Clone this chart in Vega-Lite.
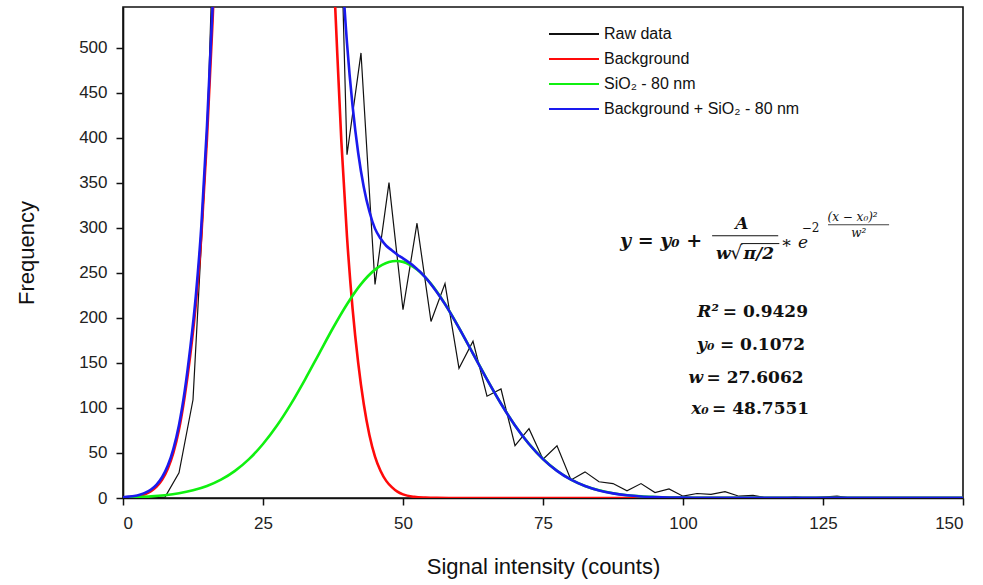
{
  "$schema": "https://vega.github.io/schema/vega-lite/v6.json",
  "width": 840,
  "height": 491,
  "autosize": "none",
  "padding": {"left": 123, "top": 7, "right": 20, "bottom": 87},
  "background": "white",
  "config": {
    "view": {"stroke": "#111", "strokeWidth": 1.6},
    "axis": {
      "grid": false,
      "domainColor": "#111",
      "domainWidth": 1.6,
      "tickColor": "#111",
      "tickWidth": 1.5,
      "tickSize": 7,
      "labelFont": "Liberation Sans",
      "labelFontSize": 17,
      "labelColor": "#222",
      "titleFont": "Liberation Sans",
      "titleFontSize": 22,
      "titleFontWeight": "normal",
      "titleColor": "#111"
    },
    "legend": {
      "labelFont": "Liberation Sans",
      "labelFontSize": 16,
      "labelColor": "#111",
      "labelLimit": 400
    },
    "text": {"font": "DejaVu Serif", "color": "#111", "baseline": "middle"}
  },
  "datasets": {
    "raw": [
      {"x": 0, "y": 0}, {"x": 2.5, "y": 0}, {"x": 5, "y": 0}, {"x": 7.5, "y": 1},
      {"x": 10, "y": 28}, {"x": 12.5, "y": 109}, {"x": 15, "y": 400}, {"x": 17.5, "y": 900},
      {"x": 20, "y": 1400}, {"x": 22.5, "y": 1900}, {"x": 25, "y": 2150}, {"x": 27.5, "y": 2200},
      {"x": 30, "y": 2000}, {"x": 32.5, "y": 1600}, {"x": 35, "y": 1250}, {"x": 37.5, "y": 960},
      {"x": 40, "y": 381}, {"x": 42.5, "y": 494}, {"x": 45, "y": 237}, {"x": 47.5, "y": 350},
      {"x": 50, "y": 209}, {"x": 52.5, "y": 305}, {"x": 55, "y": 196}, {"x": 57.5, "y": 238},
      {"x": 60, "y": 144}, {"x": 62.5, "y": 174}, {"x": 65, "y": 113}, {"x": 67.5, "y": 121},
      {"x": 70, "y": 58}, {"x": 72.5, "y": 77}, {"x": 75, "y": 43}, {"x": 77.5, "y": 58},
      {"x": 80, "y": 20}, {"x": 82.5, "y": 29}, {"x": 85, "y": 18}, {"x": 87.5, "y": 16},
      {"x": 90, "y": 8}, {"x": 92.5, "y": 16}, {"x": 95, "y": 6}, {"x": 97.5, "y": 10},
      {"x": 100, "y": 2}, {"x": 102.5, "y": 5}, {"x": 105, "y": 4}, {"x": 107.5, "y": 7},
      {"x": 110, "y": 2}, {"x": 112.5, "y": 3}, {"x": 115, "y": 0}, {"x": 117.5, "y": 0},
      {"x": 120, "y": 1}, {"x": 122.5, "y": 0}, {"x": 125, "y": 1}, {"x": 127.5, "y": 2},
      {"x": 130, "y": 0}
    ],
    "background": [
      {"x": 0, "y": 0.4}, {"x": 1, "y": 0.8}, {"x": 2, "y": 1.5}, {"x": 3, "y": 2.6},
      {"x": 4, "y": 4.5}, {"x": 5, "y": 7.7}, {"x": 6, "y": 12.7}, {"x": 7, "y": 20.6},
      {"x": 8, "y": 32.6}, {"x": 9, "y": 50.4}, {"x": 10, "y": 76}, {"x": 11, "y": 112},
      {"x": 12, "y": 158}, {"x": 13, "y": 215}, {"x": 14, "y": 292}, {"x": 15, "y": 400},
      {"x": 16, "y": 530}, {"x": 17, "y": 690}, {"x": 18, "y": 860}, {"x": 20, "y": 1250},
      {"x": 22.5, "y": 1750}, {"x": 25, "y": 2090}, {"x": 27.5, "y": 2175}, {"x": 30, "y": 1930},
      {"x": 32.5, "y": 1480}, {"x": 35, "y": 990}, {"x": 36, "y": 820}, {"x": 37, "y": 670},
      {"x": 38, "y": 530}, {"x": 39, "y": 395}, {"x": 40, "y": 290}, {"x": 41, "y": 210},
      {"x": 42, "y": 150}, {"x": 43, "y": 104}, {"x": 44, "y": 70}, {"x": 45, "y": 46},
      {"x": 46, "y": 30}, {"x": 47, "y": 19}, {"x": 48, "y": 12}, {"x": 49, "y": 7},
      {"x": 50, "y": 4}, {"x": 52, "y": 1.3}, {"x": 54, "y": 0.4}, {"x": 56, "y": 0.1},
      {"x": 60, "y": 0}, {"x": 70, "y": 0}, {"x": 80, "y": 0}, {"x": 90, "y": 0},
      {"x": 100, "y": 0}, {"x": 110, "y": 0}, {"x": 120, "y": 0}, {"x": 130, "y": 0},
      {"x": 140, "y": 0}, {"x": 150, "y": 0}
    ],
    "sio2": [
      {"x": 0, "y": 0.6}, {"x": 2.5, "y": 1.1}, {"x": 5, "y": 1.8}, {"x": 7.5, "y": 3.1},
      {"x": 10, "y": 5.2}, {"x": 12.5, "y": 8.5}, {"x": 15, "y": 13.3}, {"x": 17.5, "y": 20.3},
      {"x": 20, "y": 30.1}, {"x": 22.5, "y": 43.1}, {"x": 25, "y": 59.9}, {"x": 27.5, "y": 80.4},
      {"x": 30, "y": 104.5}, {"x": 32.5, "y": 131.5}, {"x": 35, "y": 160.1}, {"x": 37.5, "y": 188.7},
      {"x": 40, "y": 215.1}, {"x": 42.5, "y": 237.4}, {"x": 45, "y": 253.5}, {"x": 47.5, "y": 262},
      {"x": 48.75, "y": 263.1}, {"x": 50, "y": 262.1}, {"x": 52.5, "y": 253.6}, {"x": 55, "y": 237.6},
      {"x": 57.5, "y": 215.3}, {"x": 60, "y": 188.9}, {"x": 62.5, "y": 160.3}, {"x": 65, "y": 131.7},
      {"x": 67.5, "y": 104.7}, {"x": 70, "y": 80.6}, {"x": 72.5, "y": 60}, {"x": 75, "y": 43.3},
      {"x": 77.5, "y": 30.2}, {"x": 80, "y": 20.4}, {"x": 82.5, "y": 13.4}, {"x": 85, "y": 8.5},
      {"x": 87.5, "y": 5.2}, {"x": 90, "y": 3.1}, {"x": 92.5, "y": 1.8}, {"x": 95, "y": 1.1},
      {"x": 97.5, "y": 0.6}, {"x": 100, "y": 0.4}, {"x": 105, "y": 0.2}, {"x": 110, "y": 0.1},
      {"x": 120, "y": 0.1}, {"x": 130, "y": 0.1}, {"x": 140, "y": 0.1}, {"x": 150, "y": 0.1}
    ],
    "total": [
      {"x": 0, "y": 0.9}, {"x": 1, "y": 1.5}, {"x": 2, "y": 2.3}, {"x": 3, "y": 3.7},
      {"x": 4, "y": 5.9}, {"x": 5, "y": 9.4}, {"x": 6, "y": 14.9}, {"x": 7, "y": 23.3},
      {"x": 8, "y": 36}, {"x": 9, "y": 54.6}, {"x": 10, "y": 81.1}, {"x": 11, "y": 118},
      {"x": 12, "y": 166}, {"x": 13, "y": 224}, {"x": 14, "y": 303}, {"x": 15, "y": 413},
      {"x": 16, "y": 546}, {"x": 17, "y": 709}, {"x": 18, "y": 882}, {"x": 20, "y": 1280},
      {"x": 22.5, "y": 1793}, {"x": 25, "y": 2150}, {"x": 27.5, "y": 2255}, {"x": 30, "y": 2034},
      {"x": 32.5, "y": 1611}, {"x": 35, "y": 1150}, {"x": 36, "y": 992}, {"x": 37, "y": 853},
      {"x": 38, "y": 724}, {"x": 39, "y": 600}, {"x": 40, "y": 505}, {"x": 41, "y": 435},
      {"x": 42, "y": 383}, {"x": 43, "y": 345}, {"x": 44, "y": 318}, {"x": 45, "y": 299},
      {"x": 46, "y": 288}, {"x": 47, "y": 280}, {"x": 48, "y": 275}, {"x": 49, "y": 270},
      {"x": 50, "y": 266}, {"x": 52, "y": 257}, {"x": 54, "y": 245}, {"x": 56, "y": 229},
      {"x": 57.5, "y": 215.2}, {"x": 60, "y": 188.8}, {"x": 62.5, "y": 160.2}, {"x": 65, "y": 131.6},
      {"x": 67.5, "y": 104.6}, {"x": 70, "y": 80.5}, {"x": 72.5, "y": 59.9}, {"x": 75, "y": 43.2},
      {"x": 77.5, "y": 30.1}, {"x": 80, "y": 20.3}, {"x": 82.5, "y": 13.3}, {"x": 85, "y": 8.4},
      {"x": 87.5, "y": 5.1}, {"x": 90, "y": 3}, {"x": 92.5, "y": 1.7}, {"x": 95, "y": 1},
      {"x": 97.5, "y": 0.6}, {"x": 100, "y": 0.4}, {"x": 105, "y": 0.2}, {"x": 110, "y": 0.1},
      {"x": 120, "y": 0.1}, {"x": 130, "y": 0.1}, {"x": 140, "y": 0.1}, {"x": 150, "y": 0.1}
    ]
  },
  "layer": [
    {
      "data": {"name": "raw"},
      "mark": {"type": "line", "clip": true, "strokeWidth": 1.2},
      "encoding": {
        "x": {
          "field": "x", "type": "quantitative",
          "scale": {"domain": [0, 150], "nice": false, "zero": false},
          "axis": {"values": [0, 25, 50, 75, 100, 125, 150], "title": "Signal intensity (counts)", "labelPadding": 10, "titlePadding": 25}
        },
        "y": {
          "field": "y", "type": "quantitative",
          "scale": {"domain": [0, 545], "nice": false, "zero": false},
          "axis": {"values": [0, 50, 100, 150, 200, 250, 300, 350, 400, 450, 500], "title": "Frequency", "labelPadding": 9, "titlePadding": 40}
        },
        "color": {
          "datum": "Raw data",
          "scale": {
            "domain": ["Raw data", "Background", "SiO₂ - 80 nm", "Background + SiO₂ - 80 nm"],
            "range": ["#111111", "#ff0a0a", "#10f010", "#1a1aee"]
          },
          "legend": {
            "title": null,
            "orient": "none",
            "legendX": 440,
            "legendY": 16,
            "symbolType": "M-2.5,0H2.5",
            "symbolSize": 400,
            "symbolStrokeWidth": 2,
            "labelOffset": 19,
            "rowPadding": 6,
            "padding": 0
          }
        }
      }
    },
    {"data": {"name": "background"}, "mark": {"type": "line", "clip": true, "strokeWidth": 2.6, "interpolate": "monotone"},
     "encoding": {"x": {"field": "x", "type": "quantitative"}, "y": {"field": "y", "type": "quantitative"}, "color": {"datum": "Background"}}},
    {"data": {"name": "sio2"}, "mark": {"type": "line", "clip": true, "strokeWidth": 2.6, "interpolate": "monotone"},
     "encoding": {"x": {"field": "x", "type": "quantitative"}, "y": {"field": "y", "type": "quantitative"}, "color": {"datum": "SiO₂ - 80 nm"}}},
    {"data": {"name": "total"}, "mark": {"type": "line", "clip": true, "strokeWidth": 2.6, "interpolate": "monotone"},
     "encoding": {"x": {"field": "x", "type": "quantitative"}, "y": {"field": "y", "type": "quantitative"}, "color": {"datum": "Background + SiO₂ - 80 nm"}}},

    {"data": {"values": [{}]}, "mark": {"type": "text", "text": "y = y₀ +", "align": "left", "fontStyle": "italic", "fontWeight": "bold", "fontSize": 19}, "encoding": {"x": {"datum": 88.75, "type": "quantitative"}, "y": {"datum": 285.6, "type": "quantitative"}}},
    {"data": {"values": [{}]}, "mark": {"type": "text", "text": "A", "align": "center", "fontStyle": "italic", "fontWeight": "bold", "fontSize": 17}, "encoding": {"x": {"datum": 110.5, "type": "quantitative"}, "y": {"datum": 304.4, "type": "quantitative"}}},
    {"data": {"values": [{}]}, "mark": {"type": "rule", "strokeWidth": 1.2, "color": "#111"}, "encoding": {"x": {"datum": 105.2, "type": "quantitative"}, "x2": {"datum": 117.0}, "y": {"datum": 291.1, "type": "quantitative"}}},
    {"data": {"values": [{}]}, "mark": {"type": "text", "text": "w", "align": "center", "fontStyle": "italic", "fontWeight": "bold", "fontSize": 17}, "encoding": {"x": {"datum": 107.2, "type": "quantitative"}, "y": {"datum": 271.1, "type": "quantitative"}}},
    {"data": {"values": [{}]}, "mark": {"type": "text", "text": "√", "align": "center", "fontSize": 19}, "encoding": {"x": {"datum": 109.5, "type": "quantitative"}, "y": {"datum": 272, "type": "quantitative"}}},
    {"data": {"values": [{}]}, "mark": {"type": "text", "text": "π/2", "align": "left", "fontStyle": "italic", "fontWeight": "bold", "fontSize": 17}, "encoding": {"x": {"datum": 110.8, "type": "quantitative"}, "y": {"datum": 270.5, "type": "quantitative"}}},
    {"data": {"values": [{}]}, "mark": {"type": "rule", "strokeWidth": 1, "color": "#111"}, "encoding": {"x": {"datum": 110.4, "type": "quantitative"}, "x2": {"datum": 117.2}, "y": {"datum": 282.4, "type": "quantitative"}}},
    {"data": {"values": [{}]}, "mark": {"type": "text", "text": "∗ e", "align": "left", "fontStyle": "italic", "fontSize": 17}, "encoding": {"x": {"datum": 117.5, "type": "quantitative"}, "y": {"datum": 283.3, "type": "quantitative"}}},
    {"data": {"values": [{}]}, "mark": {"type": "text", "text": "−2", "align": "left", "fontSize": 12}, "encoding": {"x": {"datum": 121.2, "type": "quantitative"}, "y": {"datum": 300, "type": "quantitative"}}},
    {"data": {"values": [{}]}, "mark": {"type": "text", "text": "(x − x₀)²", "align": "left", "fontStyle": "italic", "fontSize": 12}, "encoding": {"x": {"datum": 125.8, "type": "quantitative"}, "y": {"datum": 312.2, "type": "quantitative"}}},
    {"data": {"values": [{}]}, "mark": {"type": "rule", "strokeWidth": 0.8, "color": "#111"}, "encoding": {"x": {"datum": 125.9, "type": "quantitative"}, "x2": {"datum": 136.8}, "y": {"datum": 303.3, "type": "quantitative"}}},
    {"data": {"values": [{}]}, "mark": {"type": "text", "text": "w²", "align": "center", "fontStyle": "italic", "fontSize": 12}, "encoding": {"x": {"datum": 131.4, "type": "quantitative"}, "y": {"datum": 294.4, "type": "quantitative"}}},

    {"data": {"values": [{}]}, "mark": {"type": "text", "text": "R²", "align": "right", "fontStyle": "italic", "fontWeight": "bold", "fontSize": 17}, "encoding": {"x": {"datum": 106.4, "type": "quantitative"}, "y": {"datum": 206.7, "type": "quantitative"}}},
    {"data": {"values": [{}]}, "mark": {"type": "text", "text": "= 0.9429", "align": "left", "fontWeight": "bold", "fontSize": 17}, "encoding": {"x": {"datum": 107.1, "type": "quantitative"}, "y": {"datum": 206.7, "type": "quantitative"}}},
    {"data": {"values": [{}]}, "mark": {"type": "text", "text": "y₀", "align": "right", "fontStyle": "italic", "fontWeight": "bold", "fontSize": 17}, "encoding": {"x": {"datum": 105.6, "type": "quantitative"}, "y": {"datum": 170, "type": "quantitative"}}},
    {"data": {"values": [{}]}, "mark": {"type": "text", "text": "= 0.1072", "align": "left", "fontWeight": "bold", "fontSize": 17}, "encoding": {"x": {"datum": 106.6, "type": "quantitative"}, "y": {"datum": 170, "type": "quantitative"}}},
    {"data": {"values": [{}]}, "mark": {"type": "text", "text": "w", "align": "right", "fontStyle": "italic", "fontWeight": "bold", "fontSize": 17}, "encoding": {"x": {"datum": 103.6, "type": "quantitative"}, "y": {"datum": 133.3, "type": "quantitative"}}},
    {"data": {"values": [{}]}, "mark": {"type": "text", "text": "= 27.6062", "align": "left", "fontWeight": "bold", "fontSize": 17}, "encoding": {"x": {"datum": 104.2, "type": "quantitative"}, "y": {"datum": 133.3, "type": "quantitative"}}},
    {"data": {"values": [{}]}, "mark": {"type": "text", "text": "x₀", "align": "right", "fontStyle": "italic", "fontWeight": "bold", "fontSize": 17}, "encoding": {"x": {"datum": 104.6, "type": "quantitative"}, "y": {"datum": 98.9, "type": "quantitative"}}},
    {"data": {"values": [{}]}, "mark": {"type": "text", "text": "= 48.7551", "align": "left", "fontWeight": "bold", "fontSize": 17}, "encoding": {"x": {"datum": 105.2, "type": "quantitative"}, "y": {"datum": 98.9, "type": "quantitative"}}}
  ]
}
